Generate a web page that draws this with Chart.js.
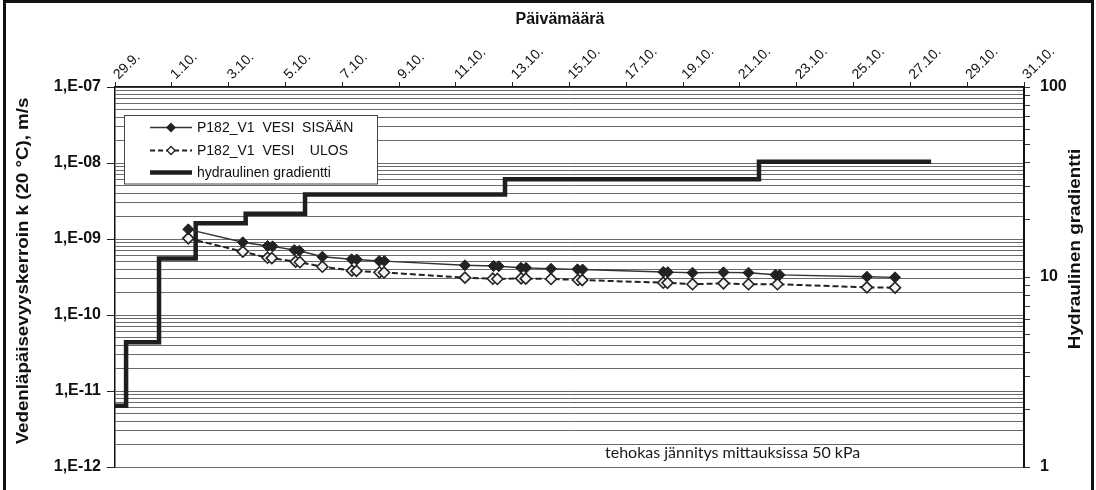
<!DOCTYPE html>
<html><head><meta charset="utf-8">
<script src="https://cdn.jsdelivr.net/npm/chart.js@4.4.0/dist/chart.umd.min.js"></script>
<style>html,body{margin:0;padding:0;background:#fff;}#wrap{width:1096px;height:490px;}</style>
</head><body><div id="wrap"><canvas id="c" width="1096" height="490"></canvas></div>
<script>
const xTitle = 'Päivämäärä';
const yTitle = 'Vedenläpäisevyyskerroin k (20 °C), m/s';
const y2Title = 'Hydraulinen gradientti';
const noteText = 'tehokas jännitys mittauksissa 50 kPa';
const seriesNames = ['P182_V1  VESI  SISÄÄN', 'P182_V1  VESI    ULOS', 'hydraulinen gradientti'];

// days counted from 29.9.
const dateTickDays = [0,2,4,6,8,10,12,14,16,18,20,22,24,26,28,30,32];
const dateTickLabels = ['29.9.','1.10.','3.10.','5.10.','7.10.','9.10.','11.10.','13.10.','15.10.','17.10.','19.10.','21.10.','23.10.','25.10.','27.10.','29.10.','31.10.'];
const kDecades = [1e-12,1e-11,1e-10,1e-9,1e-8,1e-7];
const kDecadeLabels = ['1,E-12','1,E-11','1,E-10','1,E-09','1,E-08','1,E-07'];
const gDecades = [1,10,100];
const gDecadeLabels = ['1','10','100'];

const sisaanDays = [2.58,4.50,5.37,5.55,6.31,6.49,7.30,8.33,8.51,9.30,9.48,12.32,13.33,13.51,14.29,14.47,15.35,16.28,16.46,19.30,19.46,20.33,21.42,22.30,23.25,23.40,26.47,27.46];
const sisaanK = [1.34e-9,9.05e-10,8.09e-10,8.0e-10,7.16e-10,7.0e-10,5.85e-10,5.41e-10,5.38e-10,5.14e-10,5.12e-10,4.51e-10,4.41e-10,4.38e-10,4.19e-10,4.17e-10,4.06e-10,3.99e-10,3.97e-10,3.68e-10,3.66e-10,3.60e-10,3.64e-10,3.60e-10,3.39e-10,3.37e-10,3.19e-10,3.13e-10];
const ulosDays = [2.58,4.50,5.37,5.52,6.36,6.51,7.30,8.34,8.50,9.31,9.47,12.32,13.30,13.46,14.30,14.46,15.35,16.30,16.45,19.30,19.45,20.33,21.42,22.30,23.32,26.47,27.46];
const ulosK = [1.02e-9,6.81e-10,5.67e-10,5.60e-10,5.03e-10,4.95e-10,4.32e-10,3.83e-10,3.80e-10,3.65e-10,3.63e-10,3.10e-10,3.00e-10,2.98e-10,3.03e-10,3.01e-10,2.98e-10,2.89e-10,2.88e-10,2.66e-10,2.65e-10,2.54e-10,2.61e-10,2.54e-10,2.54e-10,2.31e-10,2.29e-10];
const gradDays = [0,0.39,1.55,2.84,4.60,6.69,13.73,22.67,28.73];
const gradValues = [2.10,4.53,12.5,19.2,21.5,27.2,32.7,40.4,40.4];

const pts = (xs, ys) => xs.map((x, i) => ({x: x, y: ys[i]}));
const isDec = (v, decs) => decs.some(d => Math.abs(v / d - 1) < 1e-6);
const decLabel = (v, decs, labels) => { const i = decs.findIndex(d => Math.abs(v / d - 1) < 1e-6); return i >= 0 ? labels[i] : ''; };
const logTicks = (decs) => { const t = []; for (let i = 0; i < decs.length - 1; i++) { for (let m = 1; m < 10; m++) t.push({value: decs[i] * m}); } t.push({value: decs[decs.length - 1]}); return t; };

const FONT = '"Liberation Sans", Arial, sans-serif';

function diamond(c, x, y, r, fill, stroke) {
  c.beginPath(); c.moveTo(x, y - r); c.lineTo(x + r, y); c.lineTo(x, y + r); c.lineTo(x - r, y); c.closePath();
  c.fillStyle = fill; c.fill(); c.lineWidth = 1.3; c.strokeStyle = stroke; c.stroke();
}

const decor = {
  id: 'decor',
  beforeDraw(chart) { const c = chart.ctx; c.save(); c.fillStyle = '#fff'; c.fillRect(0, 0, chart.width, chart.height); c.restore(); },
  afterDraw(chart) {
    const c = chart.ctx;
    c.save();
    // outer frame
    c.strokeStyle = '#111'; c.lineWidth = 3;
    c.beginPath(); c.moveTo(4.5, 490); c.lineTo(4.5, 1.5); c.lineTo(1092.5, 1.5); c.lineTo(1092.5, 490); c.stroke();
    // titles
    c.fillStyle = '#111'; c.textAlign = 'center'; c.textBaseline = 'middle';
    c.font = 'bold 16px ' + FONT;
    c.fillText(xTitle, 560, 20);
    c.save(); c.translate(24, 271); c.rotate(-Math.PI / 2); c.scale(1.17, 1); c.fillText(yTitle, 0, 0); c.restore();
    c.save(); c.translate(1076, 249); c.rotate(-Math.PI / 2); c.scale(1.18, 1); c.fillText(y2Title, 0, 0); c.restore();
    // note
    c.font = '16px Lato, "Open Sans", sans-serif'; c.textAlign = 'left'; c.fillStyle = '#1a1a1a';
    c.fillText(noteText, 605, 453);
    // legend
    c.fillStyle = '#fff'; c.fillRect(124.5, 115.5, 253, 68.5);
    c.strokeStyle = '#444'; c.lineWidth = 1; c.strokeRect(124.5, 115.5, 253, 68.5);
    const ly = [127.5, 150.5, 172.5];
    c.strokeStyle = '#333'; c.lineWidth = 1.3; c.setLineDash([]);
    c.beginPath(); c.moveTo(150, ly[0]); c.lineTo(192, ly[0]); c.stroke();
    diamond(c, 171, ly[0], 4, '#222', '#222');
    c.strokeStyle = '#222'; c.lineWidth = 1.8; c.setLineDash([5, 3]);
    c.beginPath(); c.moveTo(150, ly[1]); c.lineTo(192, ly[1]); c.stroke();
    c.setLineDash([]);
    diamond(c, 171, ly[1], 4, '#fff', '#222');
    c.strokeStyle = '#1e1e1e'; c.lineWidth = 4.5;
    c.beginPath(); c.moveTo(150, ly[2]); c.lineTo(192, ly[2]); c.stroke();
    c.fillStyle = '#111'; c.font = '14px ' + FONT; c.textAlign = 'left'; c.textBaseline = 'middle';
    seriesNames.forEach((n, i) => c.fillText(n, 197, ly[i] + 1));
    c.restore();
  }
};

new Chart(document.getElementById('c'), {
  type: 'line',
  data: {
    datasets: [
      { label: seriesNames[0], data: pts(sisaanDays, sisaanK), xAxisID: 'x', yAxisID: 'y',
        borderColor: '#333', borderWidth: 1.4, pointStyle: 'rectRot', pointRadius: 5.5,
        pointBackgroundColor: '#222', pointBorderColor: '#222', pointBorderWidth: 1 },
      { label: seriesNames[1], data: pts(ulosDays, ulosK), xAxisID: 'x', yAxisID: 'y',
        borderColor: '#222', borderWidth: 2, borderDash: [6, 3], pointStyle: 'rectRot', pointRadius: 5.5,
        pointBackgroundColor: '#f4f4f4', pointBorderColor: '#222', pointBorderWidth: 1.6 },
      { label: seriesNames[2], data: pts(gradDays, gradValues), xAxisID: 'x', yAxisID: 'y2',
        borderColor: '#1e1e1e', borderWidth: 4.5, stepped: true, pointRadius: 0, borderCapStyle: 'butt' }
    ]
  },
  options: {
    responsive: false, animation: false,
    layout: { padding: { left: 0, right: 0, top: 0, bottom: 23 } },
    plugins: { legend: { display: false }, tooltip: { enabled: false } },
    scales: {
      x: {
        type: 'linear', position: 'top', min: 0, max: 32,
        afterBuildTicks: s => { s.ticks = dateTickDays.map(v => ({value: v})); },
        afterFit: s => { s.height = 87; },
        ticks: { autoSkip: false, minRotation: 45, maxRotation: 45, padding: -1, labelOffset: 13, color: '#111',
          font: { family: FONT, size: 14 },
          callback: v => { const i = dateTickDays.indexOf(v); return i >= 0 ? dateTickLabels[i] : ''; } },
        grid: { drawOnChartArea: false, drawTicks: true, tickLength: 5, color: '#222' },
        border: { display: true, color: '#111', width: 1.5 }
      },
      y: {
        type: 'logarithmic', position: 'left', min: 1e-12, max: 1e-7,
        afterBuildTicks: s => { s.ticks = logTicks(kDecades); },
        afterFit: s => { s.width = 115; },
        ticks: { autoSkip: false, padding: 6, color: '#111', font: { family: FONT, size: 16, weight: 'bold' },
          callback: v => decLabel(v, kDecades, kDecadeLabels) },
        grid: { color: '#6a6a6a', lineWidth: 1, tickLength: 8,
          tickColor: ctx => (ctx.tick && isDec(ctx.tick.value, kDecades)) ? '#222' : 'rgba(0,0,0,0)' },
        border: { display: true, color: '#111', width: 1.5 }
      },
      y2: {
        type: 'logarithmic', position: 'right', min: 1, max: 100,
        afterBuildTicks: s => { s.ticks = logTicks(gDecades); },
        afterFit: s => { s.width = 72; },
        ticks: { autoSkip: false, padding: 10, color: '#111', font: { family: FONT, size: 16, weight: 'bold' },
          callback: v => decLabel(v, gDecades, gDecadeLabels) },
        grid: { drawOnChartArea: false, tickLength: 6, color: '#333' },
        border: { display: true, color: '#111', width: 2 }
      }
    }
  },
  plugins: [decor]
});
</script></body></html>
